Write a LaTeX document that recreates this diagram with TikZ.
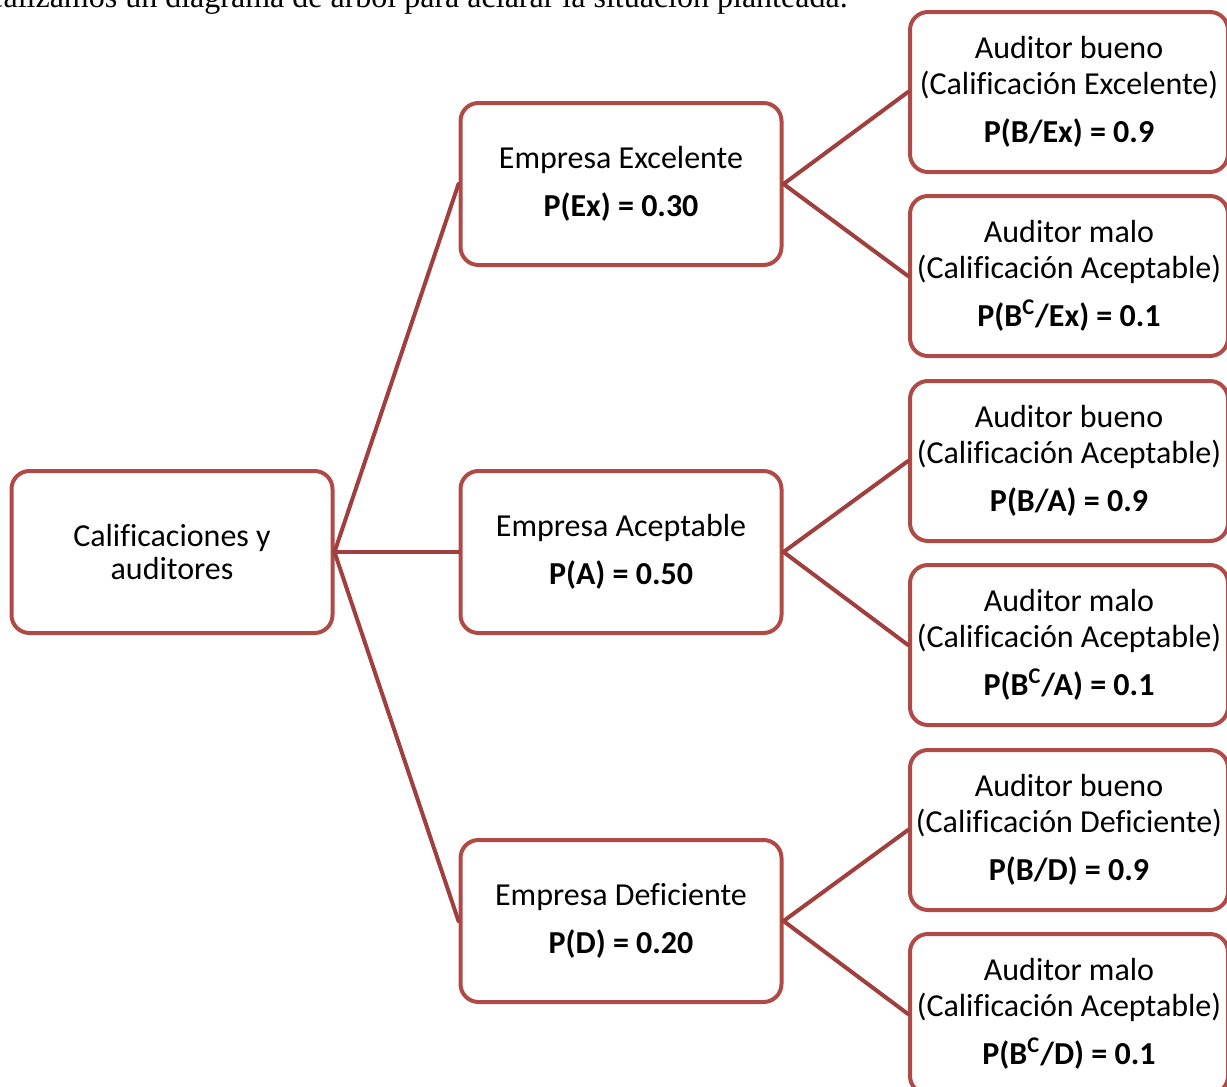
\documentclass[tikz,border=0pt]{standalone}
\usepackage{fontspec}
\setmainfont{Carlito}[Ligatures=NoCommon]
\newfontfamily\textoserif{Liberation Serif}
\definecolor{colorcaja}{RGB}{176,74,71}
\definecolor{colorrama}{RGB}{160,64,62}
\begin{document}
\begin{tikzpicture}[x=0.5pt, y=-0.5pt, line join=round, line cap=round,
	caja/.style={draw=colorcaja, line width=2pt, rounded corners=9pt, fill=white, align=center, inner sep=0pt, font=\fontsize{16}{18}\selectfont},
	cajamedia/.style={caja, minimum width=160.5pt, minimum height=81pt},
	cajafinal/.style={caja, minimum width=159pt, minimum height=80pt},
	rama/.style={draw=colorrama, line width=2pt}]
	
	\clip (0,0) rectangle (1227,1087);
	
	\node[anchor=base east, inner sep=0pt, font=\textoserif\fontsize{16}{18}\selectfont] (intro) at (848,7) {Realizamos un diagrama de árbol para aclarar la situación planteada.};
	
	% raiz
	\node[cajamedia, font=\fontsize{16}{16.5}\selectfont] (raiz) at (172,552) {Calificaciones y\\auditores};
	
	% empresas
	\node[cajamedia] (ex) at (621,184) {Empresa Excelente\\[6pt]\bfseries P(Ex) = 0.30};
	\node[cajamedia] (ac) at (621,552) {Empresa Aceptable\\[6pt]\bfseries P(A) = 0.50};
	\node[cajamedia] (de) at (621,921) {Empresa Deficiente\\[6pt]\bfseries P(D) = 0.20};
	
	% auditores
	\node[cajafinal] (bex) at (1069,92) {Auditor bueno\\(Calificación Excelente)\\[6pt]\bfseries P(B/Ex) = 0.9};
	\node[cajafinal] (mex) at (1069,276) {Auditor malo\\(Calificación Aceptable)\\[6pt]\bfseries P(B\textsuperscript{C}/Ex) = 0.1};
	\node[cajafinal] (bac) at (1069,461) {Auditor bueno\\(Calificación Aceptable)\\[6pt]\bfseries P(B/A) = 0.9};
	\node[cajafinal] (mac) at (1069,645) {Auditor malo\\(Calificación Aceptable)\\[6pt]\bfseries P(B\textsuperscript{C}/A) = 0.1};
	\node[cajafinal] (bde) at (1069,830) {Auditor bueno\\(Calificación Deficiente)\\[6pt]\bfseries P(B/D) = 0.9};
	\node[cajafinal] (mde) at (1069,1014) {Auditor malo\\(Calificación Aceptable)\\[6pt]\bfseries P(B\textsuperscript{C}/D) = 0.1};
	
	\foreach \m in {ex, ac, de}
		\draw[rama] (raiz.east) -- (\m.west);
	
	\foreach \m/\b/\c in {ex/bex/mex, ac/bac/mac, de/bde/mde} {
		\draw[rama] (\m.east) -- (\b.west);
		\draw[rama] (\m.east) -- (\c.west);
	}
	
\end{tikzpicture}
\end{document}
